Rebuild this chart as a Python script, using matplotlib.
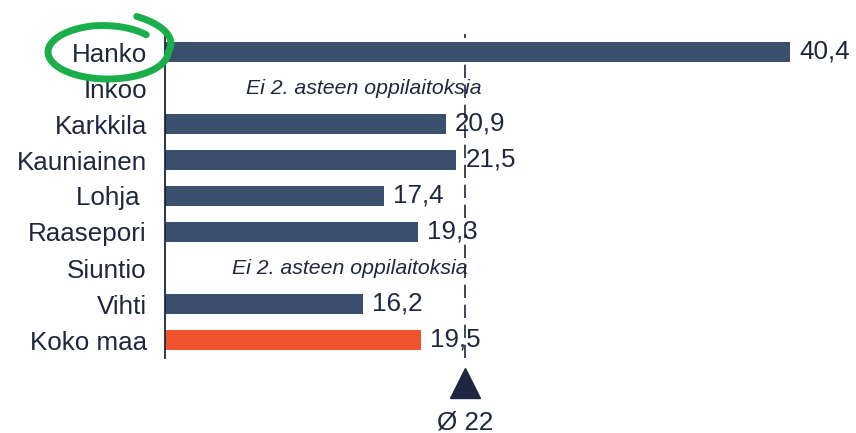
import numpy as np
import matplotlib
matplotlib.use("Agg")
import matplotlib.pyplot as plt
import matplotlib.transforms as mtransforms

plt.rcParams['font.family'] = ['Liberation Sans', 'DejaVu Sans']

# data
kunnat = ['Hanko', 'Inkoo', 'Karkkila', 'Kauniainen', 'Lohja ', 'Raasepori', 'Siuntio', 'Vihti', 'Koko maa']
arvot = [40.4, None, 20.9, 21.5, 17.4, 19.3, None, 16.2, 19.5]
keskiarvo = 22
ei_teksti = 'Ei 2. asteen oppilaitoksia'
ei_x = {'Inkoo': 9.6, 'Siuntio': 8.8}

navy = '#3A4E6E'
orange = '#F0552D'
dark = '#1E2640'
green = '#1AAF4B'

W, H = 856, 433
fig = plt.figure(figsize=(W / 100, H / 100), dpi=100)
ax = fig.add_axes([165 / W, (H - 358) / H, (W - 165) / W, (358 - 34) / H])

x0 = 5
ax.set_xlim(x0, 44.13)
ax.set_ylim(len(kunnat) - 0.5, -0.5)

for i, (k, v) in enumerate(zip(kunnat, arvot)):
    if v is None:
        ax.text(ei_x[k.strip()], i, ei_teksti, style='italic', fontsize=15.3,
                color=dark, ha='left', va='center')
        continue
    c = orange if k == 'Koko maa' else navy
    ax.barh(i, v - x0, left=x0, height=0.56, color=c)
    ax.annotate(f'{v:.1f}'.replace('.', ','), (v, i), xytext=(6.5, 0),
                textcoords='offset points', fontsize=18.7, color=dark,
                ha='left', va='center')

ax.set_yticks(range(len(kunnat)))
ax.set_yticklabels(kunnat, fontsize=18.7, color=dark)
ax.tick_params(axis='y', length=0, pad=13)
ax.set_xticks([])
for s in ['top', 'right', 'bottom']:
    ax.spines[s].set_visible(False)
ax.spines['left'].set_color(dark)
ax.spines['left'].set_linewidth(1.3)

# average line and marker
ax.axvline(keskiarvo, color=dark, lw=1.2, ls=(0, (8, 4)), zorder=0)
trans = mtransforms.blended_transform_factory(ax.transData, ax.transAxes)
ax.plot([keskiarvo], [-0.077], marker='^', ms=21, color=dark, transform=trans, clip_on=False)
ax.text(keskiarvo, -0.198, f'Ø {keskiarvo}', transform=trans, fontsize=18.7,
        color=dark, ha='center', va='center')

# hand drawn circle around Hanko (pixel coords, y down)
th = np.radians(np.linspace(-70, 315, 300))
sc = np.ones_like(th)
d = np.degrees(th)
sc[d < 0] = 1.0 + 0.4 * (-d[d < 0] / 70)
m = d > 255
sc[m] = 1.0 - 0.1 * (d[m] - 255) / 60
px = 108 + 60 * sc * np.cos(th)
py = 52 + 27 * sc * np.sin(th)
fig.add_artist(plt.Line2D(px / W, 1 - py / H, transform=fig.transFigure,
                          color=green, lw=5, solid_capstyle='round'))

fig.savefig('out.png', dpi=100)
